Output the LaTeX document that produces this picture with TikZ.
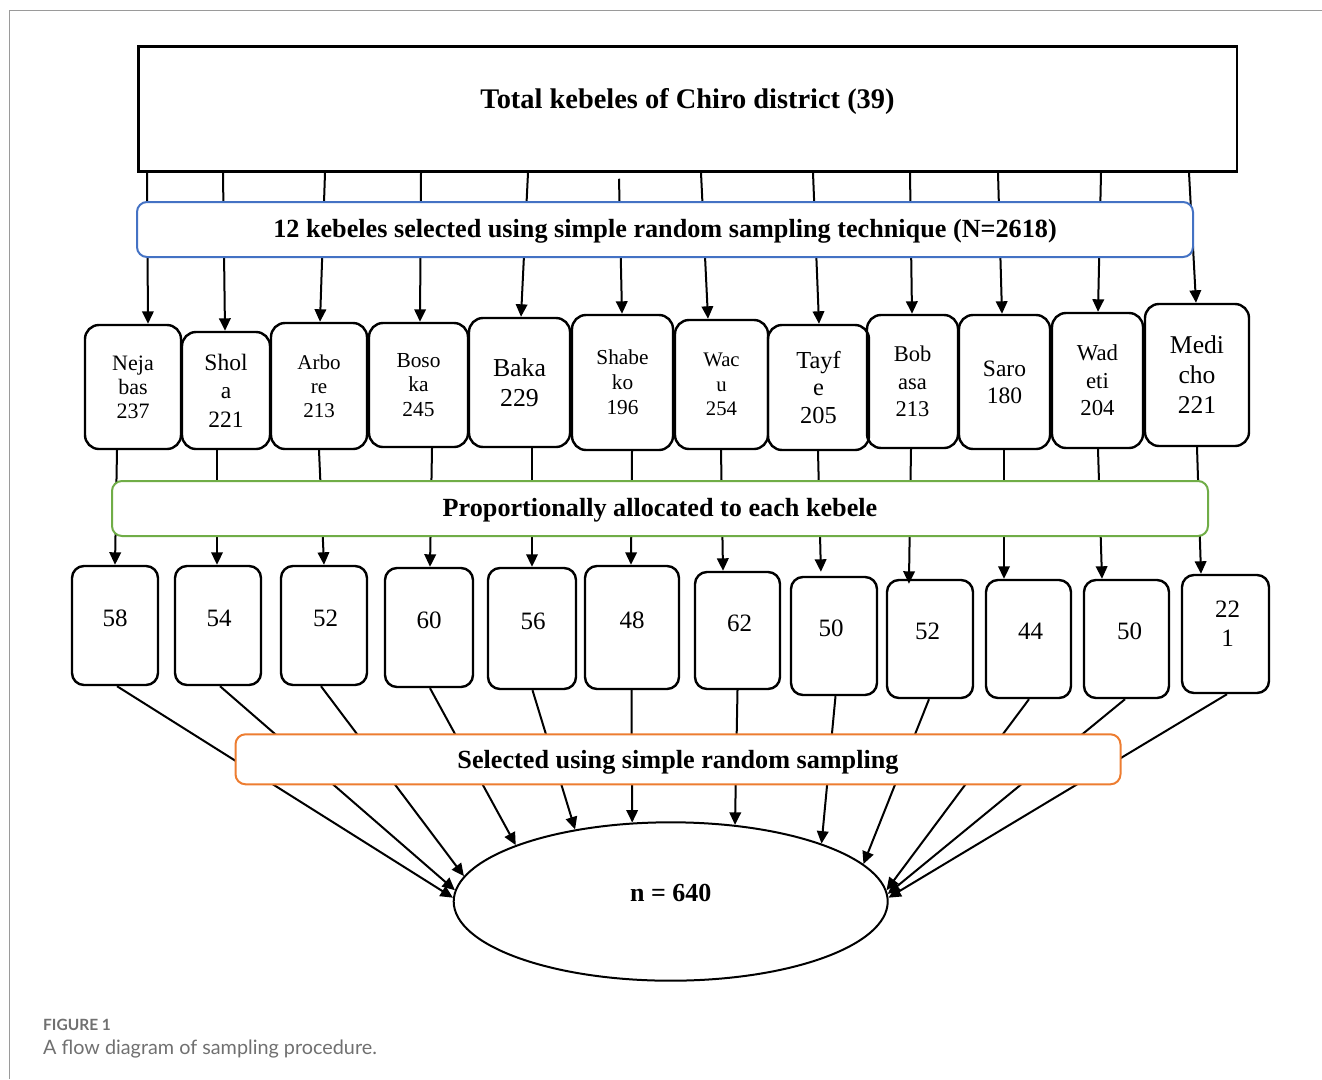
\documentclass[tikz,border=0pt]{standalone}
\usepackage{fontspec}
\setmainfont{Liberation Serif}
\newfontfamily\capfont{Lato}
\usetikzlibrary{arrows.meta,shapes.geometric,calc}
\definecolor{boxblue}{HTML}{4472C4}
\definecolor{boxgreen}{HTML}{70AD47}
\definecolor{boxorange}{HTML}{ED7D31}
\definecolor{framegray}{HTML}{9A9A9A}
\definecolor{capgray}{HTML}{707070}
\newcommand\kfs[2]{\fontsize{#1}{#2}\selectfont}
\newcommand\upby[2]{\raisebox{#1}[\height][\depth]{#2}}
\begin{document}
\begin{tikzpicture}[x=1pt,y=-1pt,
  kbox/.style={draw, line width=2.4pt, rounded corners=14pt, inner sep=0pt, align=center},
  nbox/.style={draw, line width=2.4pt, rounded corners=12pt, inner sep=0pt, align=center, font={\kfs{25}{29}}},
  band/.style={draw, line width=2pt, rounded corners=10pt, fill=white, inner sep=0pt, font={\bfseries\kfs{26.2}{30}}},
  arr/.style={line width=2pt, -{Triangle[length=12.5pt,width=11.5pt]}},
  capstyle/.style={anchor=base west, inner sep=0pt, text=capgray}
]
\useasboundingbox (0,0) rectangle (1322,1079);
% frame
\draw[framegray, line width=1.2pt] (9.3,1079) -- (9.3,10.7) -- (1322,10.7);

% top box
\node[draw, line width=2.5pt, inner sep=0pt, minimum width=1098.5pt, minimum height=125pt,
      font={\bfseries\kfs{28.4}{32}}] (top) at (687.5,109) {\upby{7pt}{Total kebeles of Chiro district (39)}};

% kebele boxes
\node[kbox, minimum width=96pt,  minimum height=124pt, font={\kfs{22}{24}}]     (k1)  at (133,387)    {Neja\\bas\\237};
\node[kbox, minimum width=88pt,  minimum height=117pt, font={\kfs{23.5}{28.5}}] (k2)  at (226,390.5)  {Shol\\a\\221};
\node[kbox, minimum width=96pt,  minimum height=126pt, font={\kfs{21}{24}}]     (k3)  at (319,386)    {Arbo\\re\\213};
\node[kbox, minimum width=99pt,  minimum height=124pt, font={\kfs{21.4}{24.5}}] (k4)  at (418.5,385)  {Boso\\ka\\245};
\node[kbox, minimum width=101pt, minimum height=129pt, font={\kfs{25.8}{30}}]   (k5)  at (519.5,382.5){Baka\\229};
\node[kbox, minimum width=101pt, minimum height=135pt, font={\kfs{21.3}{25}}]   (k6)  at (622.5,382.5){Shabe\\ko\\196};
\node[kbox, minimum width=93pt,  minimum height=129pt, font={\kfs{20.7}{24.5}}] (k7)  at (721.5,384.5){Wac\\u\\254};
\node[kbox, minimum width=101pt, minimum height=125pt, font={\kfs{24.4}{27.5}}] (k8)  at (818.5,387.5){Tayf\\e\\205};
\node[kbox, minimum width=91pt,  minimum height=133pt, font={\kfs{22.5}{27.5}}] (k9)  at (912.5,381.5){Bob\\asa\\213};
\node[kbox, minimum width=91pt,  minimum height=134pt, font={\kfs{23.5}{27}}]   (k10) at (1004.5,382) {Saro\\180};
\node[kbox, minimum width=91pt,  minimum height=135pt, font={\kfs{22.8}{27.5}}] (k11) at (1097.5,380.5){Wad\\eti\\204};
\node[kbox, minimum width=104pt, minimum height=142pt, font={\kfs{25.6}{30}}]   (k12) at (1197,375)   {Medi\\cho\\221};

% number boxes
\node[nbox, minimum width=86pt, minimum height=119pt] (b1)  at (115,625.5)   {\upby{7.5pt}{58}};
\node[nbox, minimum width=86pt, minimum height=119pt] (b2)  at (218,625.5)   {\upby{7.5pt}{\hspace*{2pt}54}};
\node[nbox, minimum width=86pt, minimum height=119pt] (b3)  at (324,625.5)   {\upby{7.5pt}{\hspace*{3pt}52}};
\node[nbox, minimum width=88pt, minimum height=119pt] (b4)  at (429,627.5)   {\upby{7.5pt}{60}};
\node[nbox, minimum width=88pt, minimum height=121pt] (b5)  at (532,628.5)   {\upby{7.5pt}{\hspace*{2pt}56}};
\node[nbox, minimum width=94pt, minimum height=123pt] (b6)  at (632,627.5)   {\upby{7.5pt}{48}};
\node[nbox, minimum width=85pt, minimum height=117pt] (b7)  at (737.5,630.5) {\upby{7.5pt}{\hspace*{4pt}62}};
\node[nbox, minimum width=86pt, minimum height=118pt] (b8)  at (834,636)     {\upby{7.5pt}{50\hspace*{6pt}}};
\node[nbox, minimum width=86pt, minimum height=118pt] (b9)  at (930,639)     {\upby{7.5pt}{52\hspace*{5pt}}};
\node[nbox, minimum width=85pt, minimum height=118pt] (b10) at (1028.5,639)  {\upby{7.5pt}{\hspace*{4pt}44}};
\node[nbox, minimum width=85pt, minimum height=118pt] (b11) at (1126.5,639)  {\upby{7.5pt}{\hspace*{6pt}50}};
\node[nbox, minimum width=87pt, minimum height=118pt] (b12) at (1225.5,634)  {\upby{7.5pt}{\hspace*{4pt}\begin{tabular}{@{}c@{}}22\\1\end{tabular}}};

% ellipse
\node[draw, ellipse, line width=2pt, inner sep=0pt, minimum width=434pt, minimum height=158.4pt,
      font={\bfseries\kfs{26}{30}}] (ell) at (670.7,901.5) {\upby{9pt}{n = 640}};

% arrows: top -> kebeles
\draw[arr] ([xshift=10pt]top.south west)   -- ([xshift=15pt]k1.north);
\draw[arr] ([xshift=86pt]top.south west)   -- ([xshift=-1pt]k2.north);
\draw[arr] ([xshift=188pt]top.south west)  -- ([xshift=1pt]k3.north);
\draw[arr] ([xshift=284pt]top.south west)  -- ([xshift=1.5pt]k4.north);
\draw[arr] ([xshift=391pt]top.south west)  -- ([xshift=1.5pt]k5.north);
\draw[arr] ([xshift=482pt,yshift=-6pt]top.south west)  -- ([xshift=-0.5pt]k6.north);
\draw[arr] ([xshift=564pt]top.south west)  -- ([xshift=-13.5pt]k7.north);
\draw[arr] ([xshift=676pt]top.south west)  -- ([xshift=0.5pt]k8.north);
\draw[arr] ([xshift=773pt]top.south west)  -- ([xshift=-0.5pt]k9.north);
\draw[arr] ([xshift=861pt]top.south west)  -- ([xshift=-2.5pt]k10.north);
\draw[arr] ([xshift=964pt]top.south west)  -- ([xshift=0.5pt]k11.north);
\draw[arr] ([xshift=1052pt]top.south west) -- ([xshift=-1pt]k12.north);

% arrows: kebeles -> numbers
\draw[arr] ([xshift=-16pt]k1.south)   -- (b1.north);
\draw[arr] ([xshift=-9pt]k2.south)    -- ([xshift=-1pt]b2.north);
\draw[arr] (k3.south)                 -- (b3.north);
\draw[arr] ([xshift=13.5pt]k4.south)  -- ([xshift=1pt]b4.north);
\draw[arr] ([xshift=12.5pt]k5.south)  -- (b5.north);
\draw[arr] ([xshift=9.5pt]k6.south)   -- ([xshift=-1pt]b6.north);
\draw[arr] ([xshift=-0.5pt]k7.south)  -- ([xshift=-14.5pt]b7.north);
\draw[arr, shorten >=4pt] ([xshift=-0.5pt]k8.south) -- ([xshift=-13pt]b8.north);
\draw[arr, shorten >=-5pt] ([xshift=-1.5pt]k9.south) -- ([xshift=-21pt]b9.north);
\draw[arr] ([xshift=-0.5pt]k10.south) -- ([xshift=-24.5pt]b10.north);
\draw[arr] ([xshift=0.5pt]k11.south)  -- ([xshift=-24.5pt]b11.north);
\draw[arr] (k12.south)                -- ([xshift=-24.5pt]b12.north);

% arrows: numbers -> ellipse
\draw[arr] ([xshift=2pt]b1.south)    -- (ell.179);
\draw[arr] ([xshift=2pt]b2.south)    -- (ell.177);
\draw[arr] ([xshift=-3pt]b3.south)   -- (ell.173);
\draw[arr] ([xshift=1pt]b4.south)    -- (ell.160);
\draw[arr] ([xshift=0.5pt]b5.south)  -- (ell.143);
\draw[arr] ([xshift=-0.5pt]b6.south) -- (ell.116);
\draw[arr] (b7.south)                -- (ell.50);
\draw[arr] ([xshift=1.5pt]b8.south)  -- (ell.21);
\draw[arr] ([xshift=-1pt]b9.south)   -- (ell.11);
\draw[arr] ([xshift=0.5pt]b10.south) -- (ell.3);
\draw[arr] ([xshift=-1.5pt]b11.south)-- (ell.2);
\draw[arr] ([xshift=1.5pt]b12.south) -- (ell.1);

% bands drawn over the connectors
\node[band, draw=boxblue, minimum width=1056pt, minimum height=55pt] (selband) at (665,229.5)
  {\upby{-2pt}{12 kebeles selected using simple random sampling technique (N=2618)}};
\node[band, draw=boxgreen, minimum width=1096pt, minimum height=55pt] (propband) at (660,508.5)
  {\upby{-2pt}{Proportionally allocated to each kebele}};
\node[band, draw=boxorange, minimum width=885pt, minimum height=50pt] (srsband) at (678,759.3)
  {\upby{-3pt}{Selected using simple random sampling}};

% caption
\node[capstyle, font={\capfont\bfseries\kfs{15.5}{19}}] (figlab) at (43,1030.7) {FIGURE 1};
\node[capstyle, font={\capfont\kfs{19.8}{24}}] (figcap) at (43,1054) {A flow diagram of sampling procedure.};
\end{tikzpicture}
\end{document}
